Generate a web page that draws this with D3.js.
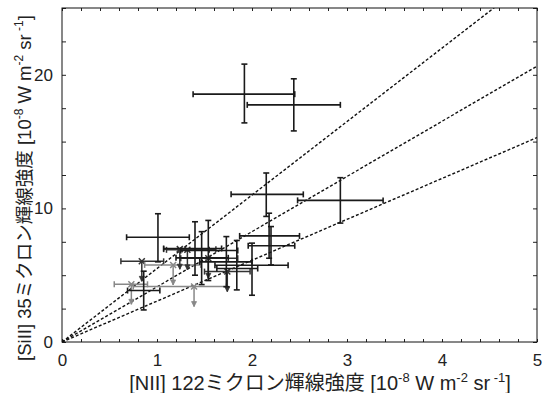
<!DOCTYPE html>
<html lang="ja">
<head>
<meta charset="UTF-8">
<title>[SiII] 35 vs [NII] 122</title>
<script src="https://d3js.org/d3.v7.min.js"></script>
<style>
  body { margin: 0; background: #fff; }
  svg { display: block; }
  text { font-family: "Liberation Sans", Arial, "Noto Sans CJK JP", sans-serif; fill: #222; }
  .title { font-family: "Liberation Sans", "Noto Sans CJK JP", sans-serif; }
</style>
</head>
<body>
<svg width="543" height="393"></svg>
<script>
// detections: value with x and y error ranges
const detX   = [1.92, 2.44, 2.15, 2.93, 1.01, 0.86, 2.18, 2.20, 2.00, 1.84, 1.40, 1.54, 1.47, 1.73];
const detY   = [18.55, 17.75, 11.05, 10.6, 7.84, 3.85, 7.94, 7.2, 5.75, 5.5, 7.0, 6.85, 6.3, 6.0];
const detXLo = [1.38, 1.95, 1.78, 2.48, 0.68, 0.69, 1.87, 1.96, 1.61, 1.63, 1.07, 1.25, 1.20, 1.45];
const detXHi = [2.45, 2.93, 2.54, 3.38, 1.34, 1.03, 2.50, 2.45, 2.38, 2.06, 1.68, 1.85, 1.75, 2.00];
const detYLo = [16.4, 15.8, 9.4, 8.9, 6.0, 2.4, 6.27, 5.77, 3.5, 3.9, 5.0, 4.6, 4.3, 4.14];
const detYHi = [20.8, 19.7, 12.65, 12.3, 9.6, 5.3, 9.64, 8.64, 7.4, 7.6, 9.0, 9.1, 8.26, 7.89];

// upper limits in [SiII]
const ulX    = [0.84, 0.73, 1.17, 1.39, 1.74, 1.24, 1.32, 1.54];
const ulY    = [6.04, 4.32, 5.77, 4.15, 5.27, 6.95, 6.9, 6.27];
const ulXLo  = [0.62, 0.55, 0.87, 0.75, 1.50, 1.07, 1.10, 1.25];
const ulXHi  = [1.07, 0.90, 1.46, 1.73, 1.98, 1.62, 1.55, 1.85];
const ulGroup = ["dark", "light", "light", "light", "dark", "dark", "dark", "dark"];

// ratio lines through the origin
const ratios = [5.5, 4.13, 3.06];

const xTicks = [0, 1, 2, 3, 4, 5];
const yTicks = [0, 10, 20];

const margin = {top: 8, right: 6, bottom: 51, left: 62},
      width = 543 - margin.left - margin.right,
      height = 393 - margin.top - margin.bottom;

const svg = d3.select("svg");
const g = svg.append("g").attr("transform", `translate(${margin.left},${margin.top})`);

const x = d3.scaleLinear().domain([0, 5]).range([0, width]);
const y = d3.scaleLinear().domain([0, 25]).range([height, 0]);

const defs = svg.append("defs");
defs.append("clipPath").attr("id", "clip")
  .append("rect").attr("width", width).attr("height", height);

// frame ticks (inward, all four sides)
const minorX = d3.range(0, 5.001, 0.2);
const minorY = d3.range(0, 25.001, 2.5);
g.append("g").attr("transform", `translate(0,${height})`)
  .call(d3.axisBottom(x).tickValues(minorX).tickSize(-3).tickFormat(""))
  .call(a => a.select(".domain").remove());
g.append("g")
  .call(d3.axisTop(x).tickValues(minorX).tickSize(-3).tickFormat(""))
  .call(a => a.select(".domain").remove());
g.append("g")
  .call(d3.axisLeft(y).tickValues(minorY).tickSize(-4).tickFormat(""))
  .call(a => a.select(".domain").remove());
g.append("g").attr("transform", `translate(${width},0)`)
  .call(d3.axisRight(y).tickValues(minorY).tickSize(-4).tickFormat(""))
  .call(a => a.select(".domain").remove());
g.selectAll(".tick line").attr("stroke", "#222");

// tick labels
g.append("g").attr("transform", `translate(0,${height})`)
  .call(d3.axisBottom(x).tickValues(xTicks).tickSize(0).tickPadding(12).tickFormat(d3.format("d")))
  .call(a => a.select(".domain").remove())
  .selectAll("text").attr("font-size", 17).attr("fill", "#222");
g.append("g")
  .call(d3.axisLeft(y).tickValues(yTicks).tickSize(0).tickPadding(9).tickFormat(d3.format("d")))
  .call(a => a.select(".domain").remove())
  .selectAll("text").attr("font-size", 17).attr("fill", "#222");

g.append("rect").attr("width", width).attr("height", height)
  .attr("fill", "none").attr("stroke", "#111").attr("stroke-width", 1);

const plot = g.append("g").attr("clip-path", "url(#clip)");

// dashed ratio lines
plot.selectAll(".ratio").data(ratios).enter().append("line")
  .attr("x1", x(0)).attr("y1", y(0))
  .attr("x2", d => x(5)).attr("y2", d => y(5 * d))
  .attr("stroke", "#111").attr("stroke-width", 1.4)
  .attr("stroke-dasharray", "3,2");

const ulColor = d3.scaleOrdinal().domain(["dark", "light"]).range(["#333", "#888"]);
const cap = 3;

// upper limits
const ul = plot.selectAll(".ul").data(ulX.map((d, i) => i)).enter().append("g")
  .attr("stroke", i => ulColor(ulGroup[i])).attr("stroke-width", 1.5).attr("fill", "none");
ul.append("line")
  .attr("x1", i => x(ulXLo[i])).attr("x2", i => x(ulXHi[i]))
  .attr("y1", i => y(ulY[i])).attr("y2", i => y(ulY[i]));
ul.append("line").attr("class", "cap")
  .attr("x1", i => x(ulXLo[i])).attr("x2", i => x(ulXLo[i]))
  .attr("y1", i => y(ulY[i]) - cap).attr("y2", i => y(ulY[i]) + cap);
ul.append("line")
  .attr("x1", i => x(ulXHi[i])).attr("x2", i => x(ulXHi[i]))
  .attr("y1", i => y(ulY[i]) - cap).attr("y2", i => y(ulY[i]) + cap);
ul.append("path")
  .attr("d", i => {
    const cx = x(ulX[i]), cy = y(ulY[i]), r = 3;
    return `M${cx - r},${cy - r}L${cx + r},${cy + r}M${cx - r},${cy + r}L${cx + r},${cy - r}`;
  });
ul.append("line")
  .attr("x1", i => x(ulX[i])).attr("x2", i => x(ulX[i]))
  .attr("y1", i => y(ulY[i])).attr("y2", i => y(ulY[i] - 1.5));
ul.append("path")
  .attr("fill", i => ulColor(ulGroup[i])).attr("stroke-width", 0.8)
  .attr("d", i => {
    const cx = x(ulX[i]), ty = y(ulY[i] - 1.5);
    return `M${cx - 2.5},${ty - 5}L${cx + 2.5},${ty - 5}L${cx},${ty}Z`;
  });

// detections
const det = plot.selectAll(".det").data(detX.map((d, i) => i)).enter().append("g")
  .attr("stroke", "#1a1a1a").attr("stroke-width", 1.6);
det.append("line")
  .attr("x1", i => x(detXLo[i])).attr("x2", i => x(detXHi[i]))
  .attr("y1", i => y(detY[i])).attr("y2", i => y(detY[i]));
det.append("line")
  .attr("x1", i => x(detX[i])).attr("x2", i => x(detX[i]))
  .attr("y1", i => y(detYLo[i])).attr("y2", i => y(detYHi[i]));
det.append("line")
  .attr("x1", i => x(detXLo[i])).attr("x2", i => x(detXLo[i]))
  .attr("y1", i => y(detY[i]) - cap).attr("y2", i => y(detY[i]) + cap);
det.append("line")
  .attr("x1", i => x(detXHi[i])).attr("x2", i => x(detXHi[i]))
  .attr("y1", i => y(detY[i]) - cap).attr("y2", i => y(detY[i]) + cap);
det.append("line")
  .attr("x1", i => x(detX[i]) - cap).attr("x2", i => x(detX[i]) + cap)
  .attr("y1", i => y(detYLo[i])).attr("y2", i => y(detYLo[i]));
det.append("line")
  .attr("x1", i => x(detX[i]) - cap).attr("x2", i => x(detX[i]) + cap)
  .attr("y1", i => y(detYHi[i])).attr("y2", i => y(detYHi[i]));

// axis titles with superscripts
function unitLabel(t, head, fs) {
  const sup = Math.round(fs * 0.65), up = Math.round(fs * 0.42);
  t.append("tspan").text(head + " [10");
  t.append("tspan").attr("dy", -up).attr("font-size", sup).text("-8");
  t.append("tspan").attr("dy", up).text(" W m");
  t.append("tspan").attr("dy", -up).attr("font-size", sup).text("-2");
  t.append("tspan").attr("dy", up).text(" sr");
  t.append("tspan").attr("dy", -up).attr("font-size", sup).text(" -1");
  t.append("tspan").attr("dy", up).text("]");
}

const xt = svg.append("text").attr("class", "title")
  .attr("x", 320).attr("y", 390)
  .attr("text-anchor", "middle").attr("font-size", 20);
unitLabel(xt, "[NII] 122ミクロン輝線強度", 20);

const yt = svg.append("text").attr("class", "title")
  .attr("transform", `translate(31,188) rotate(-90)`)
  .attr("text-anchor", "middle").attr("font-size", 18.5);
unitLabel(yt, "[SiII] 35ミクロン輝線強度", 18.5);
</script>
</body>
</html>
